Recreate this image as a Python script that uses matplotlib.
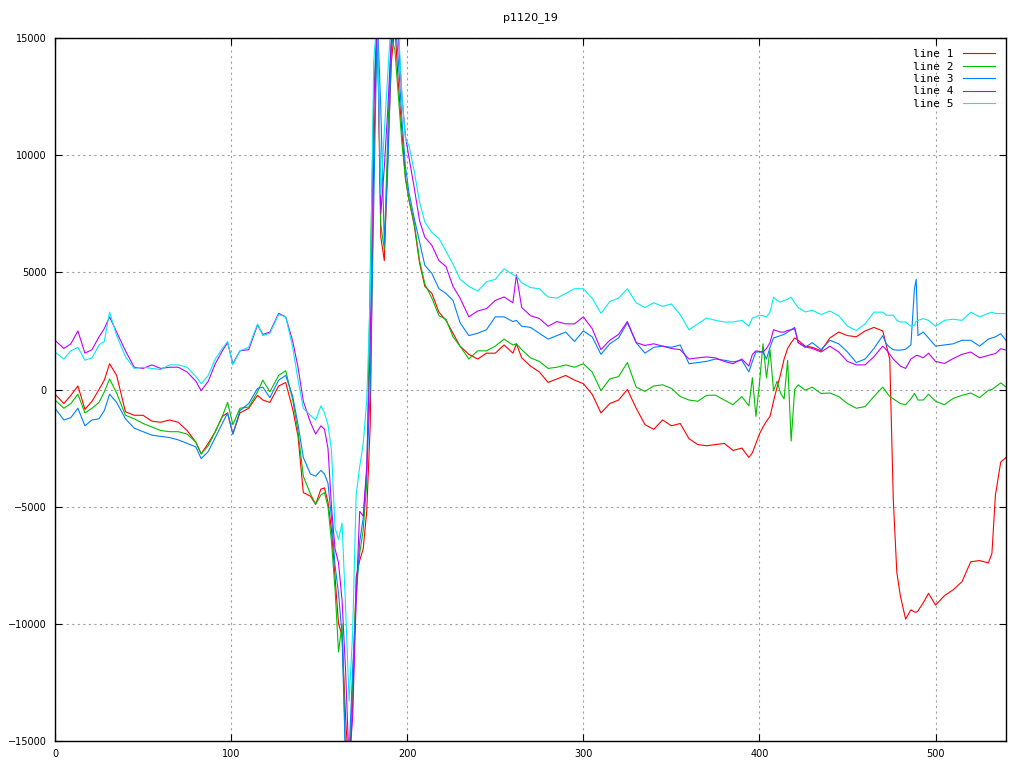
import numpy as np
import matplotlib
matplotlib.use('Agg')
import matplotlib.pyplot as plt

# sample positions (shared by all five lines)
x_vals = ([0, 5, 9, 13, 17, 21, 25, 28, 31, 35, 40, 45, 50, 55, 60, 65, 70, 75, 80,
           83, 87, 91, 95, 98, 101, 105, 110, 115, 118, 122, 127, 131, 135, 138, 141, 145, 148, 151]
          + [153, 155, 157, 159, 161, 163, 165, 167, 169, 171, 173, 175, 177, 179, 181, 183, 185,
             187, 189, 191, 193, 195, 197, 199, 201, 204, 207]
          + [210, 214, 218, 222, 226, 230, 235, 240, 245, 250, 255, 260, 262, 265, 270, 275, 280,
             285, 290, 295, 300, 305, 310, 315, 320, 325, 330, 335, 340, 345, 350, 355, 360, 365,
             370, 375, 380, 385, 390]
          + [394, 396, 398, 400, 402, 404, 406, 408, 410, 412, 414, 416, 418, 420, 422]
          + [426, 430, 435, 440, 445, 450, 455, 460, 465, 470, 472, 474, 476, 478, 480, 483, 486,
             488, 489, 490, 493, 496, 500, 505, 510, 515, 520, 525, 530, 532, 534, 537, 540])

line1 = ([-200, -600, -250, 150, -850, -500, 0, 400, 1100, 600, -950, -1100, -1100, -1350, -1400,
          -1300, -1400, -1750, -2250, -2750, -2300, -1800, -1150, -1000, -1900, -1000, -800, -250,
          -450, -550, 150, 300, -850, -2000, -4400, -4550, -4900, -4250]
         + [-4200, -4800, -6000, -8000, -10000, -10500, -14000, -16500, -13500, -8000, -7300, -6800,
            -5200, -1500, 10000, 16000, 6500, 5500, 10000, 14000, 15500, 13000, 11000, 9000, 8100,
            7000, 5400]
         + [4400, 4100, 3300, 2950, 2400, 1850, 1500, 1300, 1550, 1550, 1900, 1550, 1950, 1350, 1000,
            750, 300, 450, 600, 400, 250, -200, -1000, -600, -450, 0, -800, -1500, -1700, -1300,
            -1550, -1450, -2100, -2350, -2400, -2350, -2300, -2600, -2500]
         + [-2900, -2700, -2300, -1900, -1600, -1350, -1150, -500, 100, 650, 1300, 1750, 2000, 2200,
            2100]
         + [1850, 1800, 1650, 2200, 2450, 2300, 2250, 2500, 2650, 2500, 1900, 1300, -4700, -7800,
            -8800, -9800, -9400, -9500, -9500, -9450, -9100, -8700, -9200, -8800, -8550, -8200,
            -7350, -7300, -7400, -7000, -4500, -3100, -2900])

line2 = ([-450, -800, -600, -200, -1000, -800, -550, -100, 450, -150, -1100, -1250, -1450, -1600,
          -1750, -1800, -1800, -1900, -2250, -2750, -2400, -1800, -1150, -550, -1500, -800, -750,
          -100, 400, -100, 600, 800, -450, -1800, -3700, -4450, -4900, -4500]
         + [-4400, -5000, -6500, -8500, -11200, -10000, -15500, -16500, -12500, -8500, -7000, -6000,
            -4000, 5000, 12500, 16000, 7000, 6000, 11000, 15000, 14500, 12500, 10500, 9000, 8100,
            7100, 5500]
         + [4500, 3900, 3150, 3000, 2250, 1850, 1300, 1650, 1650, 1850, 2150, 1900, 1950, 1700, 1350,
            1200, 900, 950, 1050, 950, 1100, 750, -50, 450, 550, 1150, 100, -80, 150, 200, 50, -300,
            -450, -500, -250, -240, -450, -650, -300]
         + [-700, 500, -1150, 250, 1950, 500, 1700, -50, 350, -150, -400, 1250, -2200, 0, 200]
         + [-30, 100, -170, -150, -300, -600, -800, -730, -300, 100, -100, -300, -400, -500, -600,
            -650, -400, -170, -300, -450, -450, -200, -500, -650, -380, -250, -150, -350, -30, 0,
            110, 280, 110])

line3 = ([-800, -1300, -1200, -800, -1550, -1300, -1250, -900, -200, -550, -1250, -1650, -1800,
          -1950, -2000, -2050, -2150, -2300, -2450, -2950, -2650, -2050, -1450, -1000, -1900, -900,
          -600, 50, 100, -350, 400, 600, -300, -1500, -2900, -3600, -3700, -3450]
         + [-3600, -4000, -5500, -7500, -8700, -10500, -16000, -15500, -12000, -9000, -6500, -5500,
            -3500, 0, 8000, 16000, 12000, 6200, 9500, 14500, 16000, 14000, 11500, 9500, 8400, 7300,
            6300]
         + [5300, 4950, 4300, 4100, 3800, 2850, 2300, 2400, 2550, 3100, 3100, 2900, 2950, 2700, 2650,
            2400, 2150, 2300, 2450, 2050, 2500, 2250, 1500, 1950, 2200, 2850, 2000, 1550, 1800, 1850,
            1800, 1900, 1100, 1150, 1200, 1300, 1250, 1180, 1250]
         + [750, 1200, 1600, 1600, 1600, 1300, 1800, 2200, 2250, 2300, 2350, 2450, 2550, 2650, 2000]
         + [1800, 2000, 1700, 2100, 1950, 1600, 1150, 1300, 1750, 2300, 1950, 1800, 1700, 1680, 1680,
            1720, 1900, 4300, 4700, 2300, 2450, 2200, 1850, 1900, 1950, 2100, 2100, 1850, 2150, 2200,
            2250, 2380, 2100])

line4 = ([2100, 1750, 1950, 2500, 1550, 1700, 2250, 2600, 3100, 2450, 1650, 950, 900, 1050, 900,
          950, 950, 750, 350, -50, 350, 1100, 1650, 2000, 1100, 1650, 1700, 2750, 2350, 2450, 3250,
          3100, 2050, 950, -500, -1400, -1900, -1550]
         + [-1700, -2500, -5000, -6800, -7400, -9000, -12000, -16000, -14000, -9000, -5200, -5400,
            -3300, 2000, 12000, 16000, 7500, 9500, 12000, 15000, 16000, 15000, 12500, 10800, 9900,
            8600, 7200]
         + [6500, 6150, 5500, 5250, 4400, 3900, 3100, 3350, 3450, 3800, 3950, 3700, 4900, 3500, 3150,
            3030, 2700, 2900, 2800, 2800, 3100, 2600, 1700, 2100, 2350, 2900, 2000, 1880, 1950, 1850,
            1750, 1700, 1300, 1350, 1390, 1350, 1200, 1100, 1300]
         + [1000, 1500, 1650, 1620, 1600, 1750, 2000, 2550, 2500, 2450, 2450, 2520, 2550, 2600, 2000]
         + [1820, 1750, 1600, 1850, 1600, 1200, 1050, 1050, 1400, 1850, 1700, 1500, 1300, 1150, 1000,
            900, 1300, 1400, 1450, 1450, 1350, 1550, 1200, 1110, 1320, 1500, 1600, 1350, 1460, 1500,
            1530, 1740, 1680])

line5 = ([1600, 1300, 1650, 1800, 1250, 1350, 1900, 2050, 3300, 2300, 1400, 900, 950, 900, 850,
          1050, 1050, 950, 550, 250, 600, 1300, 1750, 2050, 1050, 1650, 1800, 2800, 2300, 2400, 3200,
          3100, 1800, 400, -800, -1100, -1300, -700]
         + [-1000, -1500, -2600, -5900, -6400, -5700, -9300, -13300, -10400, -4500, -3300, -2300,
            -500, 4000, 14000, 16000, 8300, 11000, 13500, 16000, 16000, 15500, 12500, 10700, 10400,
            9300, 8000]
         + [7150, 6700, 6450, 5900, 5350, 4700, 4400, 4200, 4600, 4700, 5150, 4900, 4850, 4550, 4350,
            4300, 3950, 3900, 4100, 4300, 4300, 3900, 3250, 3750, 3900, 4300, 3700, 3500, 3700, 3550,
            3650, 3200, 2550, 2800, 3050, 2950, 2880, 2880, 2950]
         + [2700, 3050, 3100, 3170, 3150, 3090, 3300, 3940, 3800, 3730, 3800, 3850, 3940, 3700, 3500]
         + [3310, 3380, 3200, 3350, 3150, 2700, 2520, 2800, 3300, 3300, 3170, 3170, 3170, 2950, 2880,
            2880, 2700, 2750, 2900, 2950, 3020, 2950, 2700, 2950, 3000, 2950, 3300, 3100, 3250, 3300,
            3240, 3240, 3240])

labels = ['line 1', 'line 2', 'line 3', 'line 4', 'line 5']
colors = ['#ff0000', '#00c000', '#0080ff', '#c000ff', '#00eeee']
x_ticks = [0, 100, 200, 300, 400, 500]
y_ticks = [-15000, -10000, -5000, 0, 5000, 10000, 15000]

fig = plt.figure(figsize=(10.24, 7.68), dpi=100)
ax = fig.add_axes([55 / 1024, 27 / 768, 951 / 1024, 703 / 768])

x = np.array(x_vals)
for series, label, color in zip([line1, line2, line3, line4, line5], labels, colors):
    ax.plot(x, np.array(series), color=color, linewidth=0.8, label=label)

ax.set_xlim(0, 540)
ax.set_ylim(-15000, 15000)
ax.set_xticks(x_ticks)
ax.set_yticks(y_ticks)
ax.grid(True, color='#a0a0a0', linestyle=(0, (2, 3)), linewidth=0.8)
ax.tick_params(direction='in', length=5, top=True, right=True, labelsize=7, pad=6)
for spine in ax.spines.values():
    spine.set_linewidth(1.0)
    spine.set_color('black')

ax.set_title('p1120_19', fontsize=8, pad=13)
ax.legend(loc='upper right', frameon=False, markerfirst=False, handlelength=2.9,
          labelspacing=0.22, handletextpad=0.8, borderaxespad=0.6,
          prop={'family': 'DejaVu Sans Mono', 'size': 8})

plt.savefig('out.png', dpi=100)
